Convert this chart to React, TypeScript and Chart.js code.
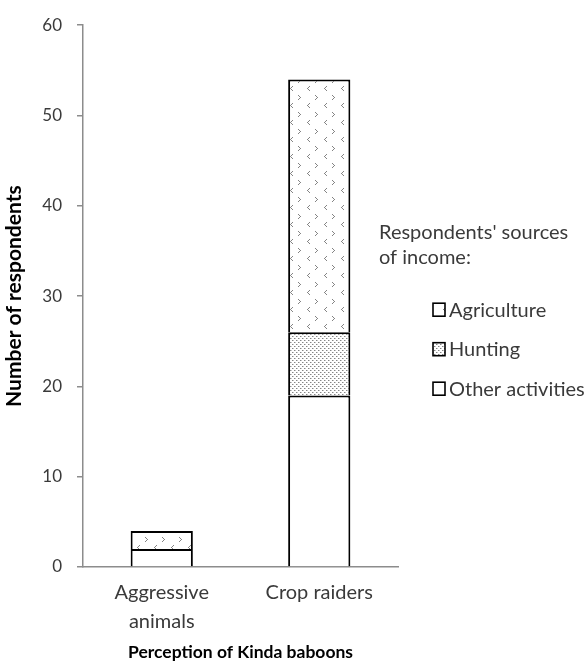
import React, { useEffect, useRef } from "react";
import { Chart, registerables } from "chart.js";

Chart.register(...registerables);

const categories: (string | string[])[] = [["Aggressive", "animals"], "Crop raiders"];
const otherActivities = [2, 19];
const hunting = [0, 7];
const agriculture = [2, 28];
const seriesNames = ["Agriculture", "Hunting", "Other activities"];
const legendTitle = ["Respondents' sources", "of income:"];
const xTitle = "Perception of Kinda baboons";
const yTitle = "Number of respondents";

const FONT = "Lato, 'Open Sans', sans-serif";
const TEXT = "#3a3a3a";

function agriPattern(): CanvasPattern | string {
  const c = document.createElement("canvas");
  c.width = 17;
  c.height = 17;
  const g = c.getContext("2d");
  if (!g) return "#fff";
  g.fillStyle = "#fff";
  g.fillRect(0, 0, 17, 17);
  g.fillStyle = "rgba(110,110,110,0.85)";
  const lt = [[3, 1], [2, 2], [1, 3], [2, 4], [3, 5]];
  lt.forEach(([x, y]) => g.fillRect(x, y, 1, 1));
  const gt = [[9, 10], [10, 11], [11, 12], [10, 13], [9, 14]];
  gt.forEach(([x, y]) => g.fillRect(x, y, 1, 1));
  const p = g.createPattern(c, "repeat");
  return p || "#fff";
}

function huntPattern(): CanvasPattern | string {
  const c = document.createElement("canvas");
  c.width = 4;
  c.height = 4;
  const g = c.getContext("2d");
  if (!g) return "#ccc";
  g.fillStyle = "#fff";
  g.fillRect(0, 0, 4, 4);
  g.fillStyle = "rgba(120,120,120,0.9)";
  g.fillRect(0, 0, 1, 1);
  g.fillRect(2, 2, 1, 1);
  g.fillStyle = "rgba(160,160,160,0.6)";
  g.fillRect(1, 0, 1, 1);
  g.fillRect(3, 2, 1, 1);
  const p = g.createPattern(c, "repeat");
  return p || "#ccc";
}

export default function App() {
  const ref = useRef<HTMLCanvasElement | null>(null);

  useEffect(() => {
    if (!ref.current) return;
    const agri = agriPattern();
    const hunt = huntPattern();
    const fills = [agri, hunt, "#ffffff"];

    const legendPlugin = {
      id: "customLegend",
      afterDraw(chart: any) {
        const ctx = chart.ctx as CanvasRenderingContext2D;
        const area = chart.chartArea;
        const x0 = area.right - 19;
        ctx.save();
        ctx.fillStyle = TEXT;
        ctx.font = `20px ${FONT}`;
        ctx.textBaseline = "middle";
        ctx.textAlign = "left";
        legendTitle.forEach((t, i) => ctx.fillText(t, x0, area.top + 207 + i * 25));
        const bx = x0 + 54;
        seriesNames.forEach((name, i) => {
          const cy = area.top + 284 + i * 39.5;
          ctx.fillStyle = fills[i] as any;
          ctx.fillRect(bx, cy - 6, 12, 13);
          ctx.strokeStyle = "#000";
          ctx.lineWidth = 1.6;
          ctx.strokeRect(bx, cy - 6, 12, 13);
          ctx.fillStyle = TEXT;
          ctx.fillText(name, bx + 16, cy + 1);
        });
        ctx.restore();
      },
    };

    const chart = new Chart(ref.current, {
      type: "bar",
      data: {
        labels: categories as any,
        datasets: [
          { label: seriesNames[2], data: otherActivities, backgroundColor: "#ffffff" },
          { label: seriesNames[1], data: hunting, backgroundColor: hunt as any },
          { label: seriesNames[0], data: agriculture, backgroundColor: agri as any },
        ].map((d) => ({
          ...d,
          borderColor: "#000",
          borderWidth: { top: 2, left: 2, right: 2, bottom: 0 },
          borderSkipped: false,
          categoryPercentage: 1,
          barPercentage: 0.395,
        })),
      },
      options: {
        responsive: false,
        animation: false,
        layout: { padding: { top: 23, right: 189, left: 0, bottom: 0 } },
        plugins: {
          legend: { display: false },
          tooltip: { enabled: false },
        },
        scales: {
          x: {
            stacked: true,
            afterFit: (s: any) => {
              s.height = 96;
            },
            grid: { display: false, drawTicks: false },
            border: { color: "#8c8c8c", width: 1.5 },
            ticks: {
              color: TEXT,
              font: { family: FONT, size: 20, lineHeight: 1.45 },
              padding: 11,
              maxRotation: 0,
            },
            title: {
              display: true,
              text: xTitle,
              color: "#000",
              font: { family: FONT, size: 17.5, weight: "bold" },
              padding: { top: 4, bottom: 0 },
            },
          },
          y: {
            stacked: true,
            min: 0,
            max: 60,
            afterFit: (s: any) => {
              s.width = 83;
            },
            ticks: { stepSize: 10, color: TEXT, font: { family: FONT, size: 17 }, padding: 15 },
            grid: { drawOnChartArea: false, drawTicks: true, tickLength: 6, tickColor: "#8c8c8c", lineWidth: 1.5 },
            border: { color: "#8c8c8c", width: 1.5 },
            title: {
              display: true,
              text: yTitle,
              color: "#000",
              font: { family: FONT, size: 21, weight: "bold" },
              padding: { top: 2, bottom: 2 },
            },
          },
        },
      },
      plugins: [legendPlugin],
    });
    return () => chart.destroy();
  }, []);

  return (
    <div style={{ position: "fixed", left: 0, top: 0, width: 587, height: 663, background: "#fff" }}>
      <canvas ref={ref} width={587} height={663} style={{ display: "block" }} />
    </div>
  );
}
